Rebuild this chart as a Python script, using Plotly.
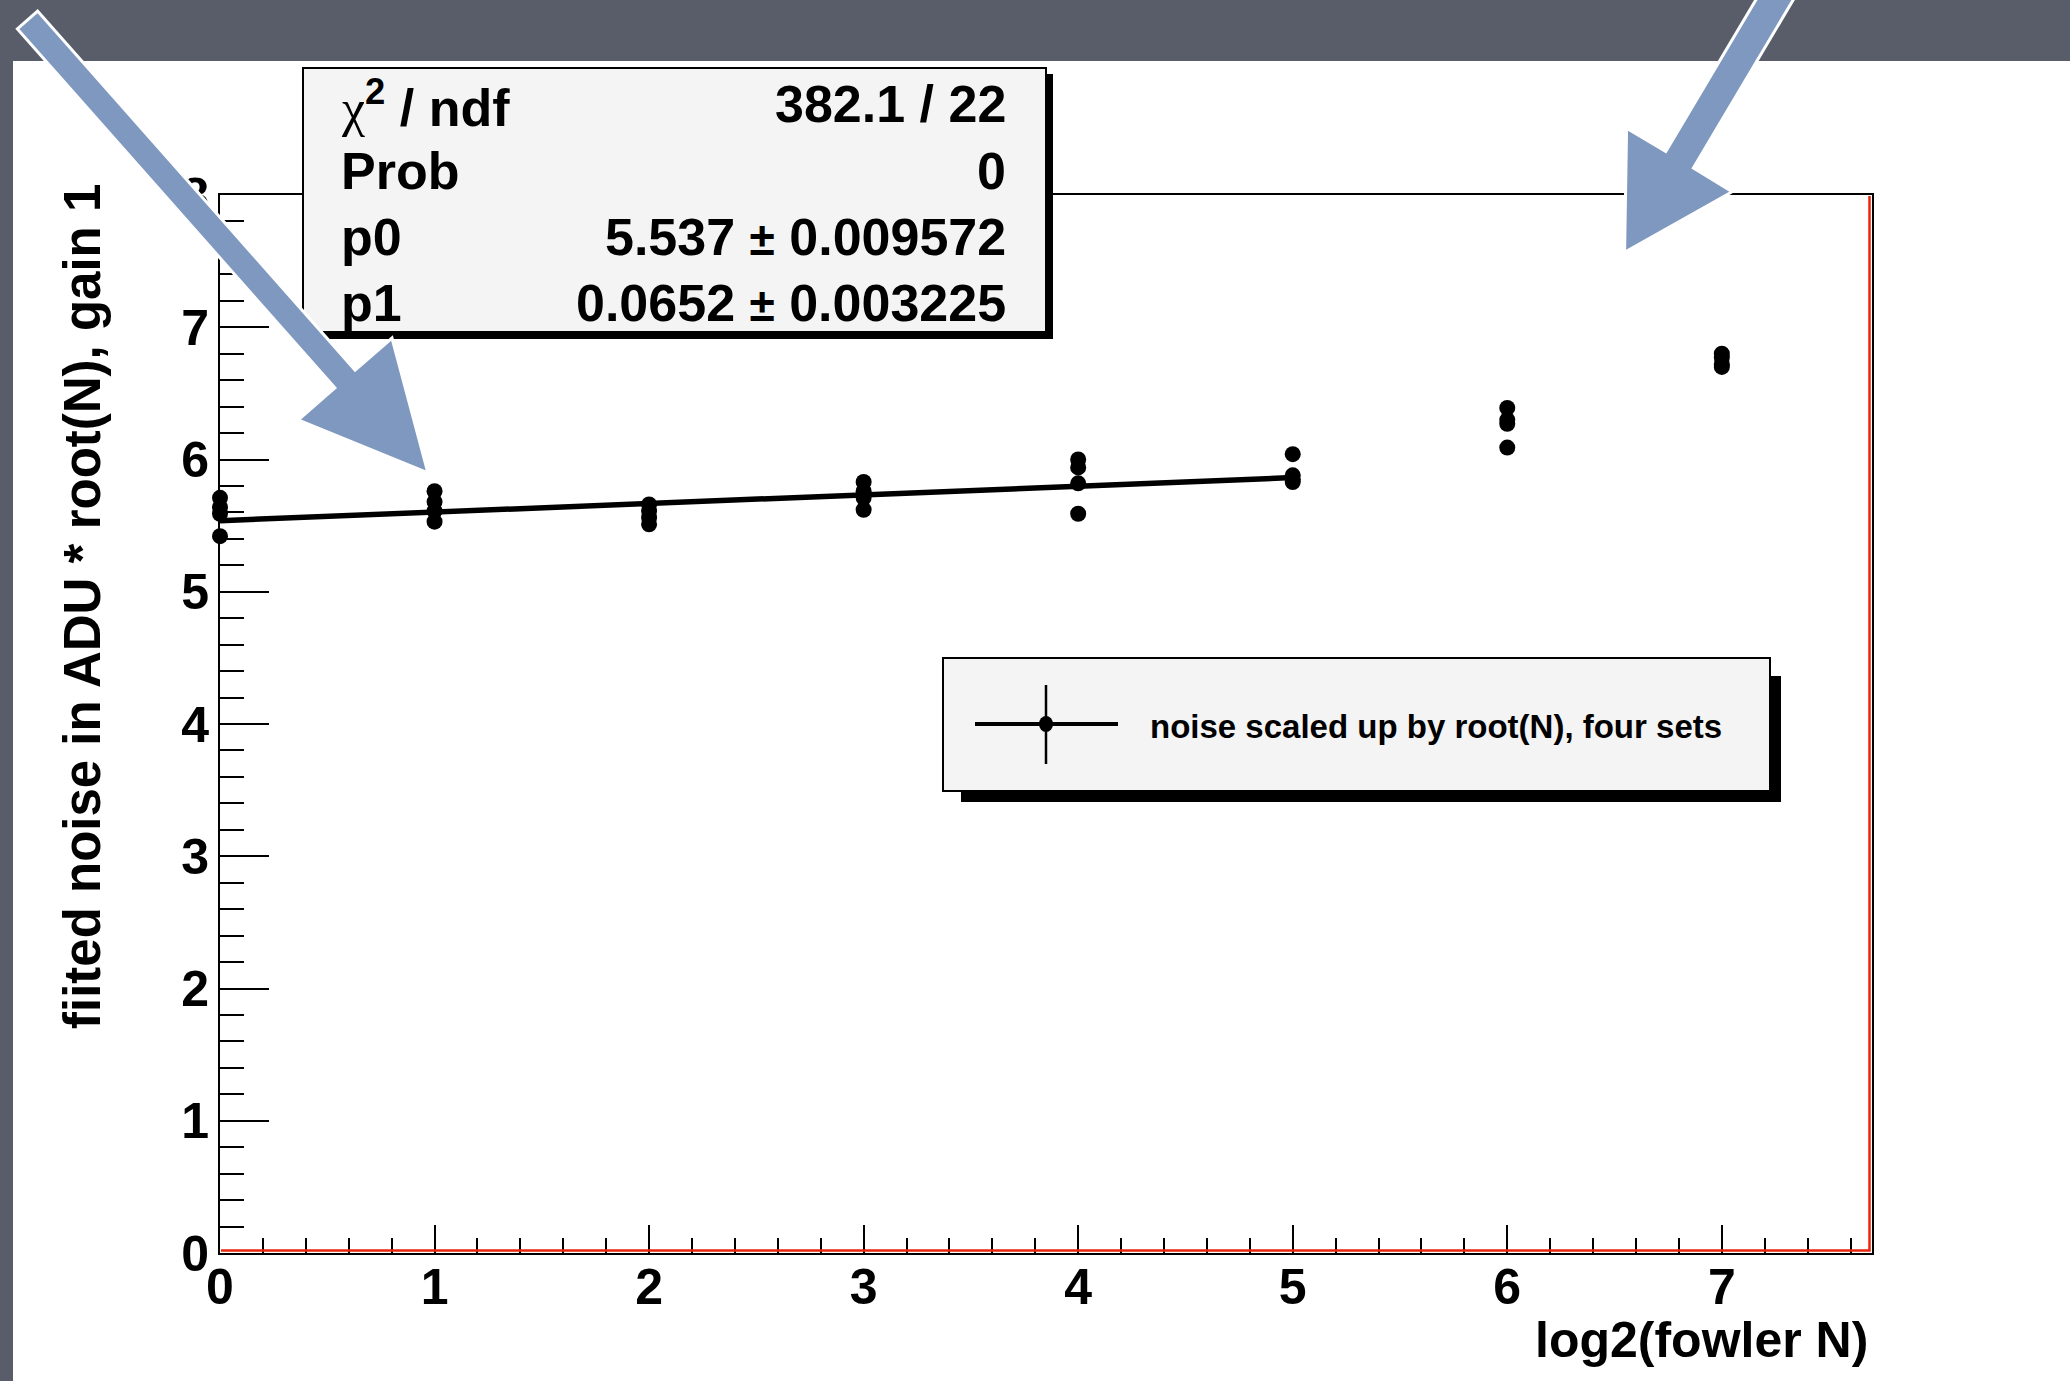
import plotly.graph_objects as go

# ---- data -------------------------------------------------------------
log2_fowler_n = [0, 1, 2, 3, 4, 5, 6, 7]

# fitted noise (ADU * root(N)), one list per data set
noise_set_a = [5.71, 5.76, 5.66, 5.83, 6.00, 6.04, 6.39, 6.80]
noise_set_b = [5.64, 5.68, 5.61, 5.76, 5.94, 5.88, 6.30, 6.77]
noise_set_c = [5.59, 5.61, 5.56, 5.71, 5.82, 5.85, 6.27, 6.72]
noise_set_d = [5.42, 5.53, 5.51, 5.62, 5.59, 5.83, 6.09, 6.70]

# linear fit results over log2(N) = 0..5
fit_range = [0, 5]
p0_value, p0_error = 5.537, 0.009572
p1_value, p1_error = 0.0652, 0.003225
chi2_value, ndf_value = 382.1, 22
prob_value = 0

x_ticks = [0, 1, 2, 3, 4, 5, 6, 7]
y_ticks = [0, 1, 2, 3, 4, 5, 6, 7, 8]

x_title = "log2(fowler N)"
y_title = "fiited noise in ADU * root(N), gain 1"
legend_label = "noise scaled up by root(N), four sets"

# ---- geometry helpers ---------------------------------------------------
W_FIG, H_FIG = 2070, 1381
M_L, M_R, M_T, M_B = 220, 198, 195, 128
PW = W_FIG - M_L - M_R
PH = H_FIG - M_T - M_B


def px(x):
    return (x - M_L) / PW


def py(y):
    return (M_T + PH - y) / PH


def rect(x0, y0, x1, y1, fill, line_color=None, line_width=0):
    return dict(type="rect", xref="paper", yref="paper",
                x0=px(x0), x1=px(x1), y0=py(y1), y1=py(y0),
                fillcolor=fill, layer="above",
                line=dict(color=line_color or fill, width=line_width))


def seg(x0, y0, x1, y1, color, width):
    return dict(type="line", xref="paper", yref="paper",
                x0=px(x0), x1=px(x1), y0=py(y0), y1=py(y1),
                layer="above", line=dict(color=color, width=width))


def poly(points, fill, outline, width):
    path = "M " + " L ".join(f"{px(a):.5f},{py(b):.5f}" for a, b in points) + " Z"
    return dict(type="path", xref="paper", yref="paper", path=path,
                fillcolor=fill, layer="above",
                line=dict(color=outline, width=width))


FONT = "Liberation Sans, Arial, Helvetica, sans-serif"
SLATE = "#585d69"
ARROW = "#7f98bf"

# ---- traces -------------------------------------------------------------
xs, ys = [], []
for series in (noise_set_a, noise_set_b, noise_set_c, noise_set_d):
    xs += log2_fowler_n
    ys += series

fig = go.Figure()
fig.add_trace(go.Scatter(
    x=[fit_range[0], fit_range[1]],
    y=[p0_value + p1_value * fit_range[0], p0_value + p1_value * fit_range[1]],
    mode="lines", line=dict(color="black", width=5.5),
    showlegend=False, hoverinfo="skip", cliponaxis=False))
fig.add_trace(go.Scatter(
    x=xs, y=ys, mode="markers",
    marker=dict(symbol="circle", size=16, color="black"),
    name=legend_label, showlegend=False, cliponaxis=False))

# ---- axes ---------------------------------------------------------------
axis_common = dict(showgrid=False, zeroline=False, showline=True,
                   linecolor="black", linewidth=2, mirror=True,
                   ticks="inside", tickcolor="black", tickwidth=2,
                   tickfont=dict(family=FONT, size=50, color="black", weight="bold"))
fig.update_xaxes(range=[0, 7.7], tickvals=x_ticks, ticklen=28,
                 ticklabelstandoff=-11,
                 minor=dict(ticks="inside", dtick=0.2, ticklen=15,
                            tickcolor="black", tickwidth=2),
                 **axis_common)
fig.update_yaxes(range=[0, 8], tickvals=y_ticks, ticklen=49,
                 ticklabelstandoff=-1,
                 minor=dict(ticks="inside", dtick=0.2, ticklen=24,
                            tickcolor="black", tickwidth=2),
                 **axis_common)

# ---- decorations --------------------------------------------------------
shapes = []
# white slide panel
shapes.append(dict(type="rect", xref="paper", yref="paper",
                   x0=px(13), x1=px(W_FIG + 20), y0=py(H_FIG + 20), y1=py(61),
                   fillcolor="white", line=dict(width=0), layer="below"))
# histogram frame drawn in red along the bottom and right edges
shapes.append(dict(type="path", xref="paper", yref="paper",
                   path=f"M {px(1869.5)},{py(196)} L {px(1869.5)},{py(1250.5)} L {px(221)},{py(1250.5)}",
                   line=dict(color="#e8260c", width=2.5), layer="above"))
# fit statistics box
shapes.append(rect(309, 74, 1053, 339, "black"))
shapes.append(rect(303, 68, 1046, 332, "#f4f4f4", "black", 2))
# legend box
shapes.append(rect(961, 676, 1781, 802, "black"))
shapes.append(rect(943, 658, 1770, 791, "#f4f4f4", "black", 2))
shapes.append(seg(975, 724, 1118, 724, "black", 4))
shapes.append(seg(1046, 685, 1046, 764, "black", 2.5))
shapes.append(dict(type="circle", xref="paper", yref="paper",
                   x0=px(1039), x1=px(1053), y0=py(732), y1=py(716),
                   fillcolor="black", line=dict(width=0), layer="above"))
# pointer arrows
shapes.append(poly([(17.4, 28.9), (37.6, 11.1), (355.1, 370.1), (392, 338),
                    (428, 473), (298, 420), (334.9, 387.9)], ARROW, "white", 3))
shapes.append(poly([(1778.5, -38.2), (1665.8, 151.5), (1626.6, 128.2),
                    (1624.6, 252.3), (1732.2, 191.7), (1693.4, 167.9),
                    (1806.1, -21.8)], ARROW, "white", 3))

# ---- text ---------------------------------------------------------------
ann = []
stat_font = dict(family=FONT, size=52, color="black", weight="bold")
rows_y = [104, 171, 237, 303]
pm = '<span style="font-size:46px">±</span>'
left_col = ['<span style="font-family:Liberation Serif;font-weight:normal">χ</span>'
            '<sup>2</sup> / ndf', "Prob", "p0", "p1"]
right_col = [f"{chi2_value} / {ndf_value}", f"{prob_value}",
             f"{p0_value} {pm} {p0_error}", f"{p1_value} {pm} {p1_error}"]
for yy, lt, rt in zip(rows_y, left_col, right_col):
    ann.append(dict(xref="paper", yref="paper", x=px(339), y=py(yy),
                    xanchor="left", yanchor="middle", text=lt,
                    showarrow=False, font=stat_font))
    ann.append(dict(xref="paper", yref="paper", x=px(1008), y=py(yy),
                    xanchor="right", yanchor="middle", text=rt,
                    showarrow=False, font=stat_font))

ann.append(dict(xref="paper", yref="paper", x=px(1148), y=py(726),
                xanchor="left", yanchor="middle", text=legend_label,
                showarrow=False,
                font=dict(family=FONT, size=33, color="black", weight="bold")))
ann.append(dict(xref="paper", yref="paper", x=px(1870), y=py(1340),
                xanchor="right", yanchor="middle", text=x_title,
                showarrow=False,
                font=dict(family=FONT, size=50, color="black", weight="bold")))
ann.append(dict(xref="paper", yref="paper", x=px(82), y=py(607),
                xanchor="center", yanchor="middle", text=y_title,
                textangle=-90, showarrow=False,
                font=dict(family=FONT, size=51, color="black", weight="bold")))

fig.update_layout(
    width=W_FIG, height=H_FIG,
    margin=dict(l=M_L, r=M_R, t=M_T, b=M_B),
    paper_bgcolor=SLATE, plot_bgcolor="white",
    shapes=shapes, annotations=ann, showlegend=False,
)

fig.write_html("out.html", config={"displayModeBar": False})
